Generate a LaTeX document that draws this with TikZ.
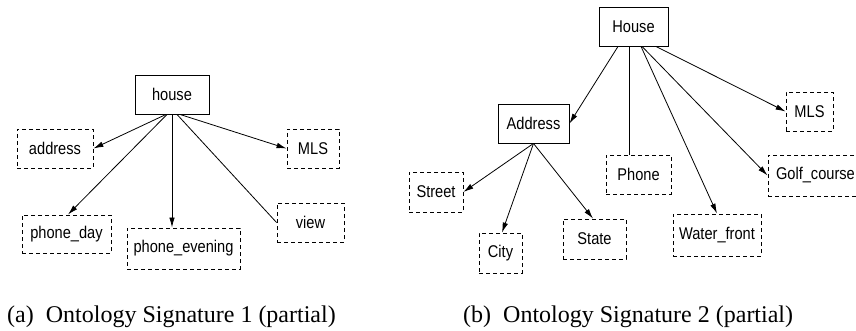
\documentclass[tikz,border=0pt]{standalone}
\usepackage{fontspec}
\setmainfont{Liberation Serif}
\newfontfamily\nodefont{Liberation Sans}[FakeStretch=0.86]
\usetikzlibrary{arrows.meta}
\tikzset{
  box/.style={draw, line width=0.9pt, inner sep=0pt, font=\nodefont\fontsize{17}{19}\selectfont},
  solidbox/.style={box},
  dashbox/.style={box, dash pattern=on 4pt off 3pt},
  link/.style={line width=0.8pt},
  arr/.style={link, -{Latex[length=10pt,width=5.5pt]}},
  caption/.style={font=\fontsize{24}{26}\selectfont, inner sep=0pt, anchor=west}
}
\begin{document}
\begin{tikzpicture}[x=1pt,y=-1pt]
\useasboundingbox (0,0) rectangle (856,331);
% left diagram
\node[solidbox, minimum width=74pt, minimum height=39pt] (house) at (172,94.5) {house};
\node[dashbox, minimum width=76pt, minimum height=39pt] (address) at (55,148.5) {address};
\node[dashbox, minimum width=52pt, minimum height=39pt] (mls) at (313,148.5) {MLS};
\node[dashbox, minimum width=89pt, minimum height=38pt] (pday) at (66.5,234) {phone\_day};
\node[dashbox, minimum width=113pt, minimum height=41pt] (peve) at (183.5,248.5) {phone\_evening};
\node[dashbox, minimum width=67pt, minimum height=39pt] (view) at (310.5,222.5) {view};
\draw[arr] ([xshift=-6pt]house.south) -- (address.east);
\draw[arr] ([xshift=-5pt]house.south) -- ([xshift=1.5pt]pday.north);
\draw[arr] (house.south) -- (peve.north -| house.south);
\draw[link] ([xshift=5pt]house.south) -- (view.west);
\draw[arr] ([xshift=8pt]house.south) -- (mls.west);
% right diagram
\node[solidbox, minimum width=69pt, minimum height=39pt] (House) at (633.5,26.5) {House};
\node[solidbox, minimum width=71pt, minimum height=39pt] (Address) at (533.5,123.5) {Address};
\node[dashbox, minimum width=47pt, minimum height=39pt] (MLS) at (809.5,111.5) {MLS};
\node[dashbox, minimum width=54pt, minimum height=40pt] (Street) at (436,192) {Street};
\node[dashbox, minimum width=43pt, minimum height=40pt] (City) at (500.5,253) {City};
\node[dashbox, minimum width=63pt, minimum height=40pt] (State) at (594.5,239) {State};
\node[dashbox, minimum width=65pt, minimum height=39pt] (Phone) at (638.5,174.5) {Phone};
\node[dashbox, minimum width=88pt, minimum height=42pt] (Water) at (717,235) {Water\_front};
\node[dashbox, minimum width=96pt, minimum height=41pt, text width=88pt, align=left] (Golf) at (816,175.5) {\hspace*{4pt}Golf\_course};
\draw[arr] ([xshift=-15.5pt]House.south) -- (Address.east);
\draw[link] ([xshift=-4.5pt]House.south) -- ([xshift=-9.5pt]Phone.north);
\draw[arr] ([xshift=7.5pt]House.south) -- (Water.north);
\draw[arr] ([xshift=8.5pt]House.south) -- (Golf.west);
\draw[arr] ([xshift=22.5pt]House.south) -- (MLS.west);
\draw[arr] (Address.south) -- (Street.east);
\draw[arr] (Address.south) -- ([xshift=1.5pt]City.north);
\draw[arr] (Address.south) -- ([xshift=-1.5pt]State.north);
% captions
\node[caption] (capa) at (7,317) {(a)\ \ Ontology Signature 1 (partial)};
\node[caption] (capb) at (463,317) {(b)\ \ Ontology Signature 2 (partial)};
\end{tikzpicture}
\end{document}
